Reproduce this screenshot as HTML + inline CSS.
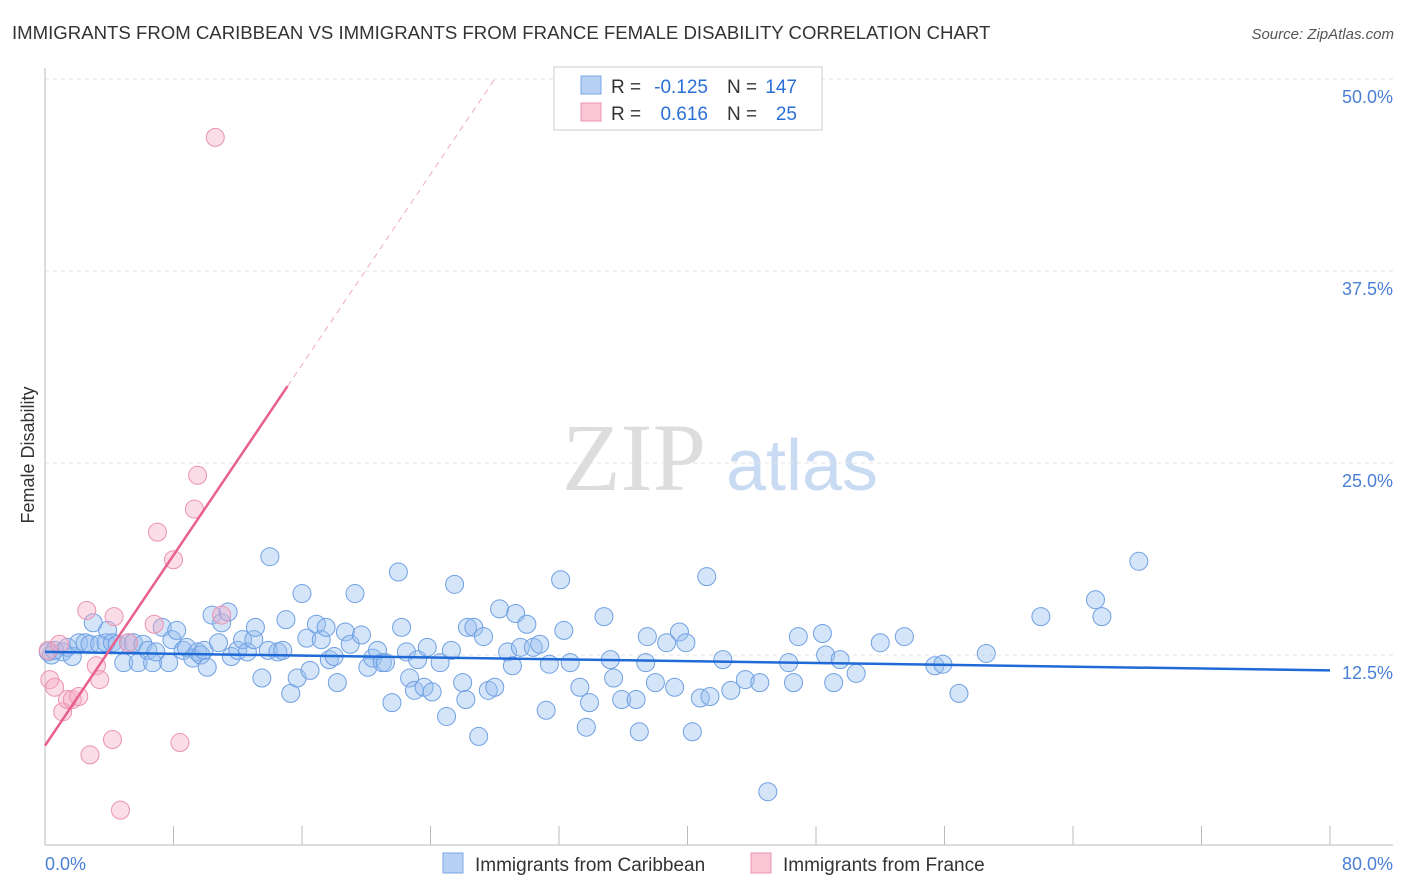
<!DOCTYPE html>
<html><head><meta charset="utf-8"><style>
body{margin:0;background:#fff;font-family:"Liberation Sans",sans-serif;}
svg{display:block}
</style></head><body>
<svg id="chart" width="1406" height="892">
<text x="12" y="39" font-size="18.6" fill="#333">IMMIGRANTS FROM CARIBBEAN VS IMMIGRANTS FROM FRANCE FEMALE DISABILITY CORRELATION CHART</text>
<text x="1394" y="39" font-size="15" fill="#555" font-style="italic" text-anchor="end">Source: ZipAtlas.com</text>
<g>
<text x="634" y="490" font-size="96" fill="#ddd" font-family="Liberation Serif,serif" text-anchor="middle">ZIP</text>
<text x="802" y="490" font-size="72" fill="#c9dbf3" text-anchor="middle">atlas</text>
</g>
<g id="grid"></g>
<g id="axes"></g>
<g id="marks"></g>
<text transform="translate(34,455) rotate(-90)" font-size="18" fill="#333" text-anchor="middle">Female Disability</text>
<text x="45" y="870" font-size="18" fill="#4a7fd4">0.0%</text>
<text x="1393" y="870" font-size="18" fill="#4a7fd4" text-anchor="end">80.0%</text>
<g>
<rect x="554" y="67" width="268" height="63" fill="#fff" stroke="#ccc"/>
<rect x="581" y="76" width="20" height="18" fill="#b7d1f4" stroke="#7aa7e3"/>
<rect x="581" y="103" width="20" height="18" fill="#f9c6d6" stroke="#eb93b0"/>
<text x="611" y="93" font-size="19" fill="#333">R =</text>
<text x="708" y="93" font-size="19" fill="#2a6fd6" text-anchor="end">-0.125</text>
<text x="727" y="93" font-size="19" fill="#333">N =</text>
<text x="797" y="93" font-size="19" fill="#2a6fd6" text-anchor="end">147</text>
<text x="611" y="120" font-size="19" fill="#333">R =</text>
<text x="708" y="120" font-size="19" fill="#2a6fd6" text-anchor="end">0.616</text>
<text x="727" y="120" font-size="19" fill="#333">N =</text>
<text x="797" y="120" font-size="19" fill="#2a6fd6" text-anchor="end">25</text>
</g>
<g>
<rect x="443" y="853" width="20" height="20" fill="#b7d1f4" stroke="#7aa7e3"/>
<text x="475" y="871" font-size="19" fill="#333">Immigrants from Caribbean</text>
<rect x="751" y="853" width="20" height="20" fill="#f9c6d6" stroke="#eb93b0"/>
<text x="783" y="871" font-size="19" fill="#333">Immigrants from France</text>
</g>
</svg>
<script>
const yTicks=[12.5,25,37.5,50];
const yTickLabels=["12.5%","25.0%","37.5%","50.0%"];
const xTicks=[0,8,16,24,32,40,48,56,64,72,80];
const blueX=[0.2,0.4,0.6,1.1,1.4,1.7,2.1,2.5,2.8,3.0,3.4,3.8,3.9,4.2,4.5,4.9,5.2,5.5,5.8,6.1,6.4,6.7,6.9,7.3,7.7,7.9,8.2,8.6,8.8,9.2,9.5,9.7,9.9,10.1,10.4,10.8,11.0,11.4,11.6,12.0,12.3,12.6,13.0,13.1,13.5,13.9,14.0,14.5,14.8,15.0,15.3,15.7,16.0,16.3,16.5,16.9,17.2,17.5,17.7,18.0,18.2,18.7,19.0,19.3,19.7,20.1,20.4,20.7,21.0,21.2,21.6,22.0,22.2,22.5,22.7,23.0,23.2,23.6,23.8,24.1,24.6,25.0,25.3,25.5,26.0,26.2,26.3,26.7,27.0,27.3,27.6,28.0,28.3,28.8,29.1,29.3,29.6,30.0,30.4,30.8,31.2,31.4,32.1,32.3,32.7,33.3,33.7,33.9,34.8,35.2,35.4,35.9,36.8,37.0,37.4,37.5,38.0,38.7,39.2,39.5,39.9,40.3,40.8,41.2,41.4,42.2,42.7,43.6,44.5,45.0,46.3,46.6,46.9,48.4,48.6,49.1,49.5,50.5,52.0,53.5,55.4,55.9,56.9,58.6,62.0,65.4,65.8,68.1];
const blueY=[12.7,12.5,12.8,12.7,13.0,12.4,13.3,13.3,13.2,14.6,13.2,13.3,14.1,13.3,13.2,12.0,13.3,13.3,12.0,13.2,12.8,12.0,12.7,14.3,12.0,13.5,14.1,12.8,13.0,12.3,12.7,12.5,12.8,11.7,15.1,13.3,14.6,15.3,12.4,12.8,13.5,12.7,13.5,14.3,11.0,12.8,18.9,12.7,12.8,14.8,10.0,11.0,16.5,13.6,11.5,14.5,13.5,14.3,12.2,12.4,10.7,14.0,13.2,16.5,13.8,11.7,12.3,12.8,12.0,12.0,9.4,17.9,14.3,12.7,11.0,10.2,12.2,10.4,13.0,10.1,12.0,8.5,12.8,17.1,10.7,9.6,14.3,14.3,7.2,13.7,10.2,10.4,15.5,12.7,11.8,15.2,13.0,14.5,13.0,13.2,8.9,11.9,17.4,14.1,12.0,10.4,7.8,9.4,15.0,12.2,11.0,9.6,9.6,7.5,12.0,13.7,10.7,13.3,10.4,14.0,13.3,7.5,9.7,17.6,9.8,12.2,10.2,10.9,10.7,3.6,12.0,10.7,13.7,13.9,12.5,10.7,12.2,11.3,13.3,13.7,11.8,11.9,10.0,12.6,15.0,16.1,15.0,18.6];
const pinkX=[0.2,0.9,0.3,0.6,1.1,1.4,1.7,2.1,2.6,2.8,3.2,3.4,4.2,4.3,4.7,5.2,6.8,7.0,8.0,8.4,9.3,9.5,10.6,11.0];
const pinkY=[12.8,13.2,10.9,10.4,8.8,9.6,9.6,9.8,15.4,6.0,11.8,10.9,7.0,15.0,2.4,13.3,14.5,20.5,18.7,6.8,22.0,24.2,46.2,15.1];
const blueTrend=[12.7,11.5];
const pinkTrend=[6.6,1.55];
const pinkSolidEnd=15.1;
const NS="http://www.w3.org/2000/svg";
const X0=45,X1=1330,Y0=847,PY=15.36;
const sx=v=>X0+(X1-X0)*v/80, sy=v=>Y0-v*PY;
function mk(tag,attrs,parent){const e=document.createElementNS(NS,tag);for(const k in attrs)e.setAttribute(k,attrs[k]);parent.appendChild(e);return e;}
const grid=document.getElementById('grid'),axes=document.getElementById('axes'),marks=document.getElementById('marks');
yTicks.forEach((t,i)=>{
  const l=mk('line',{x1:X0,x2:1393,y1:sy(t),y2:sy(t),stroke:'#e3e3e3','stroke-dasharray':'4,4'},grid);
  
  
  const tx=mk('text',{x:1393,y:sy(t)+24,'font-size':18,fill:'#4a7fd4','text-anchor':'end'},grid);
  tx.textContent=yTickLabels[i];
  
  
});
let a=mk('line',{x1:X0,x2:X0,y1:68,y2:845,stroke:'#bbb'},axes);


a=mk('line',{x1:X0,x2:1393,y1:845,y2:845,stroke:'#bbb'},axes);


xTicks.forEach(t=>{
  const l=mk('line',{x1:sx(t),x2:sx(t),y1:826,y2:845,stroke:'#bbb'},axes);
  
  
});
blueX.forEach((v,i)=>{
  const c=mk('circle',{cx:sx(v),cy:sy(blueY[i]),r:9,fill:'rgba(150,190,240,0.4)',stroke:'#6fa0e2','stroke-width':1},marks);
  
  
});
pinkX.forEach((v,i)=>{
  const c=mk('circle',{cx:sx(v),cy:sy(pinkY[i]),r:9,fill:'rgba(245,170,195,0.4)',stroke:'#eb93b0','stroke-width':1},marks);
  
  
});
let t=mk('line',{x1:sx(0),y1:sy(blueTrend[0]),x2:sx(80),y2:sy(blueTrend[1]),stroke:'#1f6ad6','stroke-width':2.5},marks);


const pEnd=(50-pinkTrend[0])/pinkTrend[1];
t=mk('line',{x1:sx(0),y1:sy(pinkTrend[0]),x2:sx(pinkSolidEnd),y2:sy(pinkTrend[0]+pinkTrend[1]*pinkSolidEnd),stroke:'#e8608f','stroke-width':2.5},marks);


t=mk('line',{x1:sx(pinkSolidEnd),y1:sy(pinkTrend[0]+pinkTrend[1]*pinkSolidEnd),x2:sx(pEnd),y2:sy(50),stroke:'#eeaac0','stroke-width':1,'stroke-dasharray':'6,5'},marks);


</script>
</body></html>
